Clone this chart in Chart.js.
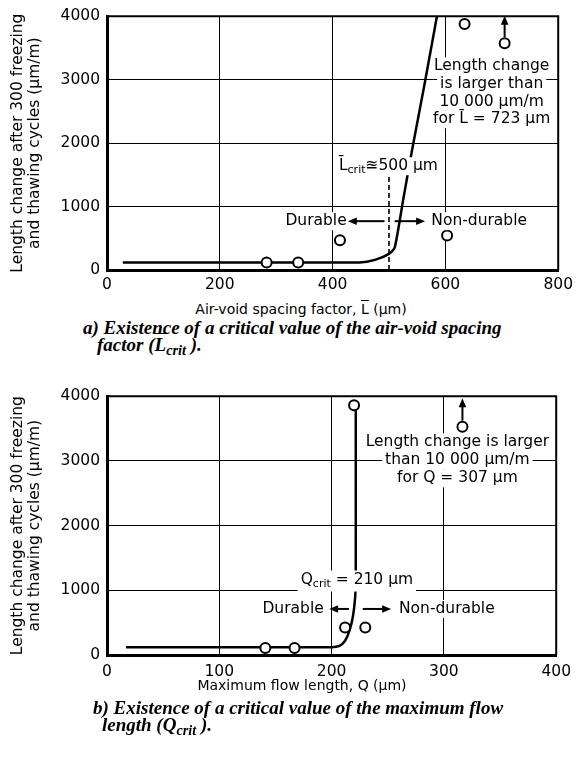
<!DOCTYPE html>
<html>
<head>
<meta charset="utf-8">
<script src="https://cdn.jsdelivr.net/npm/chart.js@4.4.1/dist/chart.umd.min.js"></script>
<style>
  body { margin: 0; background: #fff; width: 579px; height: 764px; position: relative; overflow: hidden; }
  .box { position: absolute; left: 0; width: 579px; }
  .xt { position: absolute; font-family: "DejaVu Sans", sans-serif; font-size: 14px; line-height: 18px; color: #000; white-space: nowrap; transform: translateX(-50%); }
  .cap { position: absolute; font-family: "Liberation Serif", "Times New Roman", serif; font-weight: bold; font-style: italic; font-size: 19px; line-height: 19px; color: #000; white-space: nowrap; }
  .ov { text-decoration: overline; }
  .sb { font-size: 0.75em; position: relative; top: 4px; }
</style>
</head>
<body>

<div class="box" style="top:0;height:300px"><canvas id="figA"></canvas></div>
<div class="xt" style="left:301px;top:300px">Air-void spacing factor, <span class="ov">L</span> (µm)</div>
<div class="cap" style="left:83px;top:318px">a) Existence of a critical value of the air-void spacing</div>
<div class="cap" style="left:97px;top:335px">factor (<span class="ov">L</span><span class="sb">crit</span> ).</div>

<div class="box" style="top:380px;height:300px"><canvas id="figB"></canvas></div>
<div class="xt" style="left:302px;top:676px">Maximum flow length, Q (µm)</div>
<div class="cap" style="left:93px;top:698px">b) Existence of a critical value of the maximum flow</div>
<div class="cap" style="left:102px;top:715px">length (Q<span class="sb">crit</span> ).</div>

<script>
// ── shared axis ──
const yTicks = [0, 1000, 2000, 3000, 4000];
const yTitle = ['Length change after 300 freezing', 'and thawing cycles (µm/m)'];

// ── a) air-void spacing factor ──
const xTicksA  = [0, 200, 400, 600, 800];
const spacingL = [283, 339, 413, 603, 634, 705];
const changeL  = [120, 120, 470, 545, 3880, 3575];
const fitLx    = [28, 200, 448, 475, 500, 510, 525, 540, 562, 585];
const fitLy    = [120, 120, 120, 160, 255, 350, 1100, 1850, 2880, 4000];

// ── b) maximum flow length ──
const xTicksB = [0, 100, 200, 300, 400];
const flowQ   = [141, 167, 212, 230, 220, 316.5];
const changeQ = [110, 110, 424, 424, 3860, 3530];
const fitQx   = [17, 200, 207, 212, 216, 219, 221, 221.5, 221.5];
const fitQy   = [120, 120, 140, 220, 380, 600, 900, 1200, 3860];

const FONT = '"DejaVu Sans", sans-serif';

function segs(line, size) {
  const parts = (Array.isArray(line) ? line : [line]).map(p => typeof p === 'string' ? { t: p } : { ...p });
  parts.forEach(p => { p.font = `${p.sub ? Math.round(size * 0.72) : size}px ${FONT}`; });
  return parts;
}

function lineWidth(ctx, parts) {
  let w = 0;
  parts.forEach(p => { ctx.font = p.font; p.w = ctx.measureText(p.t).width; w += p.w; });
  return w;
}

function arrow(ctx, x0, y0, x1, y1, head) {
  const a = Math.atan2(y1 - y0, x1 - x0);
  const c = Math.cos(a), s = Math.sin(a);
  ctx.beginPath();
  ctx.moveTo(x0, y0);
  ctx.lineTo(x1 - c * head * 0.8, y1 - s * head * 0.8);
  ctx.stroke();
  ctx.beginPath();
  ctx.moveTo(x1, y1);
  ctx.lineTo(x1 - head * c + head * 0.42 * s, y1 - head * s - head * 0.42 * c);
  ctx.lineTo(x1 - head * c - head * 0.42 * s, y1 - head * s + head * 0.42 * c);
  ctx.closePath();
  ctx.fill();
}

// frame, dashed marker, labels and arrows on top of the data
const notes = {
  id: 'notes',
  afterDatasetsDraw(chart, args, opts) {
    const { ctx, chartArea: ca, scales: { x, y } } = chart;
    ctx.save();
    ctx.strokeStyle = '#000';
    ctx.fillStyle = '#000';

    ctx.lineWidth = 2;
    ctx.beginPath();
    ctx.moveTo(ca.left, ca.top);
    ctx.lineTo(ca.right, ca.top);
    ctx.lineTo(ca.right, ca.bottom);
    ctx.stroke();

    (opts.dashed || []).forEach(d => {
      ctx.setLineDash([5, 3]);
      ctx.lineWidth = 1.6;
      ctx.beginPath();
      ctx.moveTo(x.getPixelForValue(d.x), y.getPixelForValue(d.y0));
      ctx.lineTo(x.getPixelForValue(d.x), y.getPixelForValue(d.y1));
      ctx.stroke();
      ctx.setLineDash([]);
    });

    ctx.textBaseline = 'middle';
    (opts.labels || []).forEach(l => {
      const size = l.size || 15.5, lh = l.lh || 18;
      const px = x.getPixelForValue(l.x), py = y.getPixelForValue(l.y);
      const rows = l.lines.map(line => { const p = segs(line, size); return { p, w: lineWidth(ctx, p) }; });
      rows.forEach((r, i) => {
        const ry = py + i * lh;
        const rx = l.align === 'left' ? px : l.align === 'right' ? px - r.w : px - r.w / 2;
        ctx.fillStyle = '#fff';
        ctx.fillRect(rx - 3, ry - lh / 2 - (l.padTop || 0), r.w + 6, lh + (l.padTop || 0) + (l.padBottom || 0));
        ctx.fillStyle = '#000';
        let cx = rx;
        r.p.forEach(s => {
          ctx.font = s.font;
          ctx.fillText(s.t, cx, ry + (s.sub ? size * 0.28 : 0));
          cx += s.w;
        });
      });
    });

    ctx.lineWidth = 2;
    (opts.arrows || []).forEach(a => {
      arrow(ctx, x.getPixelForValue(a.x0), y.getPixelForValue(a.y0) + (a.lift || 0),
                 x.getPixelForValue(a.x1), y.getPixelForValue(a.y1), 9);
    });
    ctx.restore();
  }
};

function makeChart(id, cfg) {
  const tickFont = { family: FONT, size: 15.5 };
  return new Chart(document.getElementById(id), {
    type: 'scatter',
    data: {
      datasets: [
        {
          data: cfg.px.map((v, i) => ({ x: v, y: cfg.py[i] })),
          pointRadius: 5,
          pointBackgroundColor: '#fff',
          pointBorderColor: '#000',
          pointBorderWidth: 2,
          showLine: false
        },
        {
          data: cfg.fx.map((v, i) => ({ x: v, y: cfg.fy[i] })),
          showLine: true,
          borderColor: '#000',
          borderWidth: 2.5,
          pointRadius: 0,
          tension: 0.2
        }
      ]
    },
    options: {
      responsive: true,
      maintainAspectRatio: false,
      animation: false,
      events: [],
      layout: { padding: { top: cfg.top, right: 17, left: 0, bottom: 0 } },
      plugins: {
        legend: { display: false },
        tooltip: { enabled: false },
        notes: cfg.notes
      },
      scales: {
        x: {
          type: 'linear',
          min: cfg.xTicks[0],
          max: cfg.xTicks[cfg.xTicks.length - 1],
          afterBuildTicks: s => { s.ticks = cfg.xTicks.map(v => ({ value: v })); },
          ticks: { color: '#000', font: tickFont, padding: cfg.xPad, maxRotation: 0, callback: v => String(v) },
          grid: { color: '#000', lineWidth: 1, drawTicks: false },
          border: { color: '#000', width: 3 },
          afterFit: s => { s.height = cfg.xHeight; }
        },
        y: {
          min: 0,
          max: 4000,
          afterBuildTicks: s => { s.ticks = yTicks.map(v => ({ value: v })); },
          ticks: { color: '#000', font: tickFont, padding: 7, callback: v => String(v) },
          grid: { color: '#000', lineWidth: 1, drawTicks: false },
          border: { color: '#000', width: 3 },
          title: {
            display: true,
            text: yTitle,
            color: '#000',
            font: { family: FONT, size: 15.5, lineHeight: 1.1 },
            padding: { top: 9.5, bottom: 0 }
          },
          afterFit: s => { s.width = 107; }
        }
      }
    },
    plugins: [notes]
  });
}

makeChart('figA', {
  px: spacingL, py: changeL, fx: fitLx, fy: fitLy, xTicks: xTicksA,
  top: 6, xHeight: 30, xPad: 6,
  notes: {
    dashed: [{ x: 500, y0: 0, y1: 1480 }],
    labels: [
      { x: 425, y: 770, align: 'right', lines: ['Durable'] },
      { x: 575, y: 770, align: 'left', lines: ['Non-durable'] },
      { x: 499, y: 1636, align: 'center', lines: [['L\u0304', { t: 'crit', sub: true }, '\u224A500 µm']] },
      { x: 682, y: 3212, align: 'center', lh: 17.7,
        lines: ['Length change', 'is larger than', '10 000 µm/m', 'for L\u0304 = 723 µm'] }
    ],
    arrows: [
      { x0: 492, y0: 770, x1: 427, y1: 770 },
      { x0: 510, y0: 770, x1: 564, y1: 770 },
      { x0: 705, y0: 3575, x1: 705, y1: 4010, lift: -6 }
    ]
  }
});

makeChart('figB', {
  px: flowQ, py: changeQ, fx: fitQx, fy: fitQy, xTicks: xTicksB,
  top: 11, xHeight: 25, xPad: 8,
  notes: {
    labels: [
      { x: 193, y: 712, align: 'right', lines: ['Durable'] },
      { x: 260, y: 712, align: 'left', lines: ['Non-durable'] },
      { x: 222.5, y: 1167, align: 'center', padBottom: 3, lines: [['Q', { t: 'crit', sub: true }, ' = 210 µm']] },
      { x: 312, y: 3288, align: 'center', lh: 18,
        lines: ['Length change is larger', 'than 10 000 µm/m', 'for Q = 307 µm'] }
    ],
    arrows: [
      { x0: 215.4, y0: 712, x1: 197.8, y1: 712 },
      { x0: 227.7, y0: 712, x1: 253, y1: 712 },
      { x0: 316.5, y0: 3530, x1: 316.5, y1: 3970, lift: -6 }
    ]
  }
});
</script>
</body>
</html>
